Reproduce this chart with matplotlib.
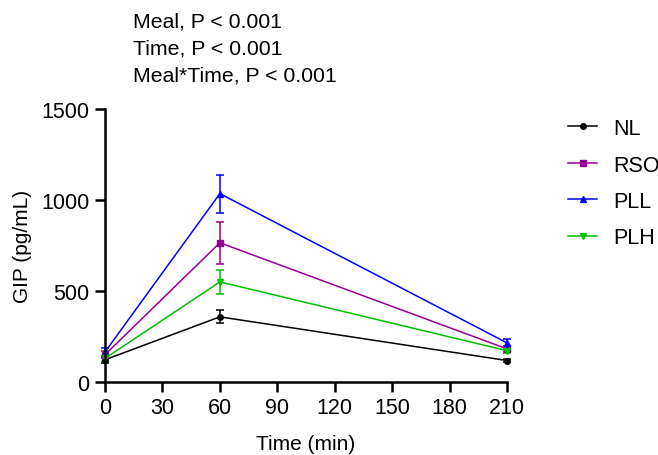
import matplotlib
matplotlib.use("Agg")
import matplotlib.pyplot as plt
from matplotlib.lines import Line2D

plt.rcParams['font.family'] = ['Liberation Sans', 'DejaVu Sans']

time = [0, 60, 210]
groups = ["NL", "RSO", "PLL", "PLH"]
nl = [122, 358, 118]
rso = [150, 765, 182]
pll = [165, 1035, 215]
plh = [130, 550, 172]
nl_err = [15, 35, 8]
rso_err = [18, 115, 15]
pll_err = [20, 105, 22]
plh_err = [12, 65, 12]

colors = ["#000000", "#960096", "#0000FF", "#00C000"]
markers = ["o", "s", "^", "v"]
series = [nl, rso, pll, plh]
errs = [nl_err, rso_err, pll_err, plh_err]

fig = plt.figure(figsize=(6.58, 4.56), dpi=100)
ax = fig.add_axes([105/658, 1-383/456, (507-105)/658, (383-110)/456])

handles = []
for name, y, e, c, m in zip(groups, series, errs, colors, markers):
    ax.errorbar(time, y, yerr=e, color=c, marker=m, markersize=4, lw=1.1,
                capsize=3, elinewidth=1.1, capthick=1.1, clip_on=False)
    handles.append(Line2D([], [], color=c, marker=m, markersize=4, lw=1.1, label=name))

ax.set_xlim(0, 210)
ax.set_ylim(0, 1500)
ax.set_xticks([0, 30, 60, 90, 120, 150, 180, 210])
ax.set_yticks([0, 500, 1000, 1500])
for s in ["top", "right"]:
    ax.spines[s].set_visible(False)
for s in ["left", "bottom"]:
    ax.spines[s].set_linewidth(1.8)
ax.tick_params(width=1.8, length=7, labelsize=15.5, direction="out", pad=4)
ax.set_xlabel("Time (min)", fontsize=15, labelpad=11)
ax.set_ylabel("GIP (pg/mL)", fontsize=15, labelpad=7)

fs_t = 15.3
fig.text(133/658, 1-22/456, "Meal, P < 0.001", fontsize=fs_t, va="center")
fig.text(133/658, 1-49/456, "Time, P < 0.001", fontsize=fs_t, va="center")
fig.text(133/658, 1-76/456, "Meal*Time, P < 0.001", fontsize=fs_t, va="center")

ax.legend(handles=handles, loc="upper left", bbox_to_anchor=(568/658, 1-119/456),
          bbox_transform=fig.transFigure, frameon=False, fontsize=15.5,
          handlelength=1.35, labelspacing=0.72, handletextpad=0.74,
          borderpad=0, borderaxespad=0)

fig.savefig("out.png", dpi=100)
